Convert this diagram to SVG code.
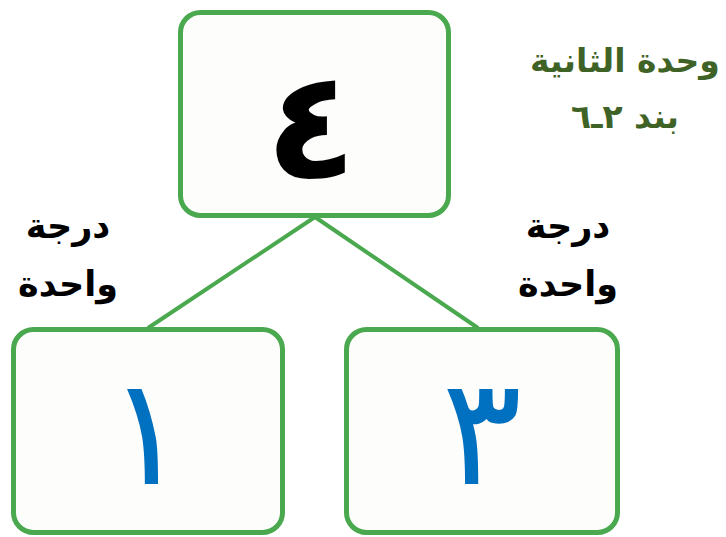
<svg xmlns="http://www.w3.org/2000/svg" width="726" height="537" viewBox="0 0 726 537">
<style>
.box{fill:#fdfdfb;stroke:#4aa84e;stroke-width:5}
.edge{stroke:#4aa84e;stroke-width:4;fill:none}
.lbl{font-family:"DejaVu Sans","Noto Sans",sans-serif;font-weight:bold;font-size:35px;text-anchor:middle;fill:#000}
.title{font-family:"DejaVu Sans","Noto Sans",sans-serif;font-weight:bold;font-size:33px;text-anchor:middle;fill:#3f6326}
.num{font-family:"DejaVu Sans","Noto Sans",sans-serif;font-size:150px;text-anchor:middle}
</style>
<rect width="726" height="537" fill="#ffffff"/>
<g id="connectors">
<line class="edge" x1="315" y1="217" x2="148" y2="328"/>
<line class="edge" x1="315" y1="217" x2="478" y2="328"/>
</g>
<g id="node-top">
<rect class="box" x="180.5" y="12.5" width="268" height="203" rx="20"/>
<text class="num" x="311" y="178" font-weight="bold" font-size="165" fill="#000">٤</text>
</g>
<g id="node-left">
<rect class="box" x="13.5" y="329.5" width="269" height="203" rx="20"/>
<text class="num" x="147" y="484" font-size="158" fill="#0070c0">١</text>
</g>
<g id="node-right">
<rect class="box" x="346.5" y="329.5" width="271" height="203" rx="20"/>
<text class="num" x="482" y="484" font-size="158" fill="#0070c0">٣</text>
</g>
<g id="title">
<text class="title" x="625" y="72" direction="rtl">وحدة الثانية</text>
<text class="title" x="625" y="128" direction="rtl">بند ٢ـ٦</text>
</g>
<g id="label-left">
<text class="lbl" x="68" y="238" direction="rtl">درجة</text>
<text class="lbl" x="68" y="296" direction="rtl">واحدة</text>
</g>
<g id="label-right">
<text class="lbl" x="568" y="238" direction="rtl">درجة</text>
<text class="lbl" x="568" y="296" direction="rtl">واحدة</text>
</g>
</svg>
